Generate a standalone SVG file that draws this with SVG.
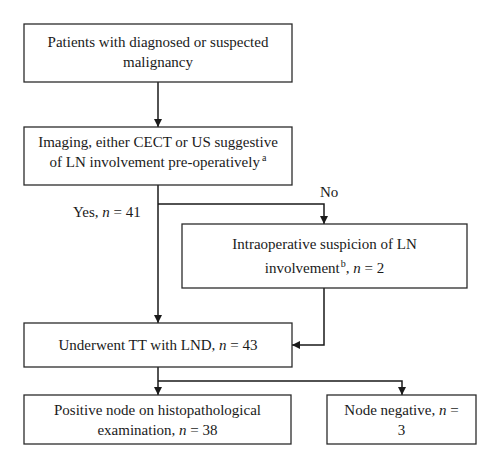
<svg xmlns="http://www.w3.org/2000/svg" width="500" height="468" viewBox="0 0 500 468">
<style>
.box{fill:#fff;stroke:#2b2b2b;stroke-width:1.3}
.t{font-family:"Liberation Serif","Times New Roman",serif;font-size:15px;fill:#1a1a1a;text-anchor:middle}
.l{font-family:"Liberation Serif","Times New Roman",serif;font-size:15px;fill:#1a1a1a}
.sup{font-size:10px}
.c{fill:none;stroke:#1a1a1a;stroke-width:1.5}
</style>
<defs>
<marker id="ah" viewBox="0 0 10 10" refX="10" refY="5" markerWidth="8" markerHeight="8" markerUnits="userSpaceOnUse" orient="auto">
<path d="M0,0 L10,5 L0,10 z" fill="#1a1a1a"/>
</marker>
</defs>
<rect width="500" height="468" fill="#fff"/>
<g id="connectors">
<path class="c" d="M158,82 V127" marker-end="url(#ah)"/>
<path class="c" d="M158,185 V323" marker-end="url(#ah)"/>
<path class="c" d="M158,204 H324 V224" marker-end="url(#ah)"/>
<path class="c" d="M324,288 V345 H292" marker-end="url(#ah)"/>
<path class="c" d="M158,367 V395" marker-end="url(#ah)"/>
<path class="c" d="M158,381 H402 V395" marker-end="url(#ah)"/>
<text class="l" x="320" y="197">No</text>
<text class="l" x="73" y="217">Yes, <tspan font-style="italic">n</tspan> = 41</text>
</g>
<g id="n1">
<rect class="box" x="24" y="24" width="268" height="58"/>
<text class="t" x="158" y="47">Patients with diagnosed or suspected</text>
<text class="t" x="158" y="67">malignancy</text>
</g>
<g id="n2">
<rect class="box" x="24" y="127" width="268" height="58"/>
<text class="t" x="158" y="147">Imaging, either CECT or US suggestive</text>
<text class="t" x="158" y="167">of LN involvement pre-operatively<tspan class="sup" dx="2" dy="-6">a</tspan></text>
</g>
<g id="n3">
<rect class="box" x="182" y="224" width="285" height="64"/>
<text class="t" x="324.5" y="249">Intraoperative suspicion of LN</text>
<text class="t" x="324.5" y="273">involvement<tspan class="sup" dx="1" dy="-6">b</tspan><tspan dy="6">, </tspan><tspan font-style="italic">n</tspan> = 2</text>
</g>
<g id="n4">
<rect class="box" x="24" y="323" width="268" height="44"/>
<text class="t" x="158" y="350">Underwent TT with LND, <tspan font-style="italic">n</tspan> = 43</text>
</g>
<g id="n5">
<rect class="box" x="24" y="395" width="267" height="49"/>
<text class="t" x="157.5" y="415">Positive node on histopathological</text>
<text class="t" x="157.5" y="435">examination, <tspan font-style="italic">n</tspan> = 38</text>
</g>
<g id="n6">
<rect class="box" x="327" y="395" width="149" height="49"/>
<text class="t" x="401.5" y="415">Node negative, <tspan font-style="italic">n</tspan> =</text>
<text class="t" x="401.5" y="435">3</text>
</g>
</svg>
